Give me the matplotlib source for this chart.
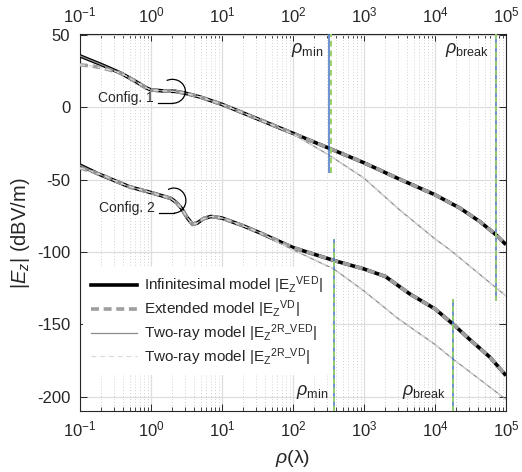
import matplotlib
matplotlib.use('Agg')
import matplotlib.pyplot as plt
from matplotlib.patches import Arc
from matplotlib.lines import Line2D
from matplotlib.transforms import ScaledTranslation
from matplotlib.ticker import FixedLocator, NullFormatter

plt.rcParams['font.family'] = ['Liberation Sans', 'DejaVu Sans']
plt.rcParams['mathtext.fontset'] = 'custom'
plt.rcParams['mathtext.rm'] = 'Liberation Sans'
plt.rcParams['mathtext.it'] = 'Liberation Sans:italic'
plt.rcParams['mathtext.bf'] = 'Liberation Sans:bold'
plt.rcParams['axes.unicode_minus'] = False

# ---------------- data ----------------
# Config. 1
c1_rho = [0.1, 0.2, 0.38, 0.6, 0.85, 1.0, 1.5, 2.2, 3.0, 5.0, 10, 20, 50, 100,
          320, 1000, 3162, 1e4, 2.24e4, 4.27e4, 7.16e4, 1e5]
c1_inf = [35.5, 29.5, 23.5, 18, 13.5, 12, 11.3, 11, 9.8, 7, 2, -4, -12, -18,
          -28.3, -38.4, -49.7, -60.5, -69.7, -79, -88, -95]
c1_ext_rho = [0.1, 0.15, 0.2, 0.3, 0.45, 0.6]
c1_ext_head = [29.3, 28.5, 27.3, 25.0, 21.5, 18]
c1_2r_rho = [100, 320, 1000, 3162, 1e4, 1.62e4, 1e5]
c1_2r_tail = [-18.5, -33, -49, -70.9, -91, -98.5, -130.5]

# Config. 2
c2_rho = [0.1, 0.18, 0.3, 0.5, 1.0, 1.5, 1.9, 2.3, 2.7, 3.2, 3.85, 4.5, 5.5, 7, 10,
          20, 35, 100, 380, 1000, 2000, 4400, 1e4, 1.78e4, 3e4, 6e4, 1e5]
c2_inf = [-40, -46, -50.5, -55, -59, -61.5, -63, -66, -70, -76, -81, -80, -77,
          -75.5, -76.6, -82, -87, -97, -106, -111.8, -117, -129, -139.4, -149.8,
          -160, -173, -185.5]
c2_ext_rho = [0.1, 0.15, 0.2]
c2_ext_head = [-42, -44.5, -46.5]
c2_2r_rho = [35, 100, 380, 1000, 3000, 1e4, 1.78e4, 1e5]
c2_2r_tail = [-87, -98.5, -112, -127, -146, -164, -174, -202]

# Reference distances (vertical markers) and their extents
rho_min_1 = [320, 340]        # blue, green
rho_break_1 = 71600
rho_min_2 = 380
rho_break_2 = 17800
vl1_min_span = (-45.3, 51)
vl1_break_span = (-133.7, 51)
vl2_min_span = (-210, -91)
vl2_break_span = (-210, -132.3)

x_ticks = [1e-1, 1e0, 1e1, 1e2, 1e3, 1e4, 1e5]
x_ticklabels = [r"$10^{-1}$", r"$10^{0}$", r"$10^{1}$", r"$10^{2}$",
                r"$10^{3}$", r"$10^{4}$", r"$10^{5}$"]
y_ticks = [-200, -150, -100, -50, 0, 50]
y_ticklabels = ['-200', '-150', '-100', '-50', '0', '50']

legend_labels = [
    r"Infinitesimal model |E$_{\mathrm{Z}}$$^{\mathrm{VED}}$|",
    r"Extended model |E$_{\mathrm{Z}}$$^{\mathrm{VD}}$|",
    r"Two-ray model |E$_{\mathrm{Z}}$$^{\mathrm{2R\_VED}}$|",
    r"Two-ray model |E$_{\mathrm{Z}}$$^{\mathrm{2R\_VD}}$|",
]

# ---------------- figure ----------------
W, H = 522, 472
fig = plt.figure(figsize=(W / 100, H / 100), dpi=100)
ax = fig.add_axes([80 / W, 1 - 411 / H, 426 / W, 377.5 / H])

axcol = (0.15, 0.15, 0.15)
black = (0.0, 0.0, 0.0)
gray = (0.62, 0.62, 0.62)
thin = (0.55, 0.55, 0.55)
light = (0.86, 0.86, 0.86)
blue = (0.27, 0.45, 0.77)
green = (0.60, 0.82, 0.40)


def merge(rho_a, val_a, rho_b, val_b):
    pts = {}
    for r, v in zip(rho_a, val_a):
        pts[r] = v
    for r, v in zip(rho_b, val_b):
        pts[r] = v
    rs = sorted(pts)
    return rs, [pts[r] for r in rs]


def join(rho_a, val_a, rho_b, val_b):
    head_r = [r for r in rho_a if r < rho_b[0]]
    head_v = [v for r, v in zip(rho_a, val_a) if r < rho_b[0]]
    return head_r + list(rho_b), head_v + list(val_b)


c1_ext_r, c1_ext_v = merge(c1_rho, c1_inf, c1_ext_rho, c1_ext_head)
c1_2r_r, c1_2r_v = join(c1_rho, c1_inf, c1_2r_rho, c1_2r_tail)
c1_2rvd_r, c1_2rvd_v = join(c1_ext_r, c1_ext_v, c1_2r_rho, c1_2r_tail)

c2_ext_r, c2_ext_v = merge(c2_rho, c2_inf, c2_ext_rho, c2_ext_head)
c2_2r_r, c2_2r_v = join(c2_rho, c2_inf, c2_2r_rho, c2_2r_tail)
c2_2rvd_r, c2_2rvd_v = join(c2_ext_r, c2_ext_v, c2_2r_rho, c2_2r_tail)

dash = (0, (2.2, 1.3))
light_dash = (0, (4, 3))
for (ir, iv, er, ev, tr, tv, dr, dv) in [
        (c1_rho, c1_inf, c1_ext_r, c1_ext_v, c1_2r_r, c1_2r_v, c1_2rvd_r, c1_2rvd_v),
        (c2_rho, c2_inf, c2_ext_r, c2_ext_v, c2_2r_r, c2_2r_v, c2_2rvd_r, c2_2rvd_v)]:
    ax.plot(ir, iv, color=black, lw=2.6, solid_capstyle='butt', zorder=3)
    ax.plot(er, ev, color=gray, lw=2.6, linestyle=dash, zorder=4)
    ax.plot(tr, tv, color=thin, lw=0.9, zorder=5)
    ax.plot(dr, dv, color=light, lw=0.9, linestyle=light_dash, zorder=5)

# vertical markers
ax.vlines(rho_min_1[0], *vl1_min_span, color=blue, lw=1.1, zorder=6)
ax.vlines(rho_min_1[1], *vl1_min_span, color=green, lw=1.4,
          linestyles=[(0, (3, 2))], zorder=6)
for x, span in [(rho_break_1, vl1_break_span), (rho_min_2, vl2_min_span),
                (rho_break_2, vl2_break_span)]:
    ax.vlines(x, *span, color=blue, lw=1.1, zorder=6)
    ax.vlines(x, *span, color=green, lw=1.3, linestyles=[(0, (3, 2))], zorder=7)

# rho labels
off = ScaledTranslation(-6 / 100, 0, fig.dpi_scale_trans)
for x, y, s in [(rho_min_1[0], 37.3, r"$\rho_{\mathrm{min}}$"),
                (rho_break_1, 37.3, r"$\rho_{\mathrm{break}}$"),
                (rho_min_2, -198.6, r"$\rho_{\mathrm{min}}$"),
                (rho_break_2, -198.6, r"$\rho_{\mathrm{break}}$")]:
    ax.text(x, y, s, fontsize=13, color=axcol, ha='right', va='baseline',
            transform=ax.transData + off, zorder=8)

# axes formatting
ax.set_xscale('log')
ax.set_xlim(0.1, 1e5)
ax.set_ylim(-210, 51)
ax.set_yticks(y_ticks)
ax.set_yticklabels(y_ticklabels)
ax.set_xticks(x_ticks)
ax.set_xticklabels(x_ticklabels)
minor = [m * 10.0 ** e for e in range(-1, 5) for m in range(2, 10)]
ax.xaxis.set_minor_locator(FixedLocator(minor))
ax.xaxis.set_minor_formatter(NullFormatter())
ax.grid(True, which='major', color=(0.87, 0.87, 0.87), lw=0.9, linestyle='-')
ax.grid(True, which='minor', axis='x', color=(0.76, 0.76, 0.76), lw=0.6,
        linestyle=(0, (1, 2.5)))
ax.set_axisbelow(True)
ax.tick_params(which='both', direction='in', top=True, right=True,
               labeltop=True, colors=axcol, labelsize=12)
ax.tick_params(which='major', length=5, width=0.7)
ax.tick_params(which='minor', length=3, width=0.6)
ax.tick_params(axis='y', pad=7)
ax.tick_params(axis='x', pad=6)
for s in ax.spines.values():
    s.set_color(axcol)
    s.set_linewidth(0.8)

ax.set_xlabel(r"$\rho$($\mathrm{\lambda}$)", fontsize=14, color=axcol, labelpad=6)
ax.set_ylabel(r"|$E_z$| (dBV/m)", fontsize=14.5, color=axcol)
ax.yaxis.set_label_coords(-0.112, 0.47)

# config call-outs (anchored on the curves)
for cx, cy, lab, rx, ry in [(2.0, 11.0, "Config. 1", 0.13, 0.12),
                            (2.1, -64.5, "Config. 2", 0.12, 0.125)]:
    t = fig.dpi_scale_trans + ScaledTranslation(cx, cy, ax.transData)
    ax.add_patch(Arc((0, 0), 2 * rx, 2 * ry, theta1=-90, theta2=118, transform=t,
                     color='k', lw=0.9, zorder=9))
    ax.plot([0, -0.145], [-ry, -ry], transform=t, color='k', lw=0.9, zorder=9)
    ax.text(-0.19, -ry + 0.055, lab, transform=t, fontsize=10, color=axcol,
            ha='right', va='center', zorder=9)

# legend
handles = [Line2D([], [], color=black, lw=2.6),
           Line2D([], [], color=gray, lw=2.6, linestyle=dash),
           Line2D([], [], color=thin, lw=0.9),
           Line2D([], [], color=light, lw=0.9, linestyle=light_dash)]
leg = ax.legend(handles, legend_labels, loc='upper left',
                bbox_to_anchor=(0.0, 0.39), frameon=True, fancybox=False,
                facecolor='white', edgecolor='none', framealpha=1.0,
                fontsize=11, handlelength=3.0, handletextpad=0.5,
                labelspacing=0.15, borderpad=0.5, borderaxespad=0.2)
for txt in leg.get_texts():
    txt.set_color(axcol)
leg.set_zorder(10)

fig.savefig('out.png', dpi=100)
